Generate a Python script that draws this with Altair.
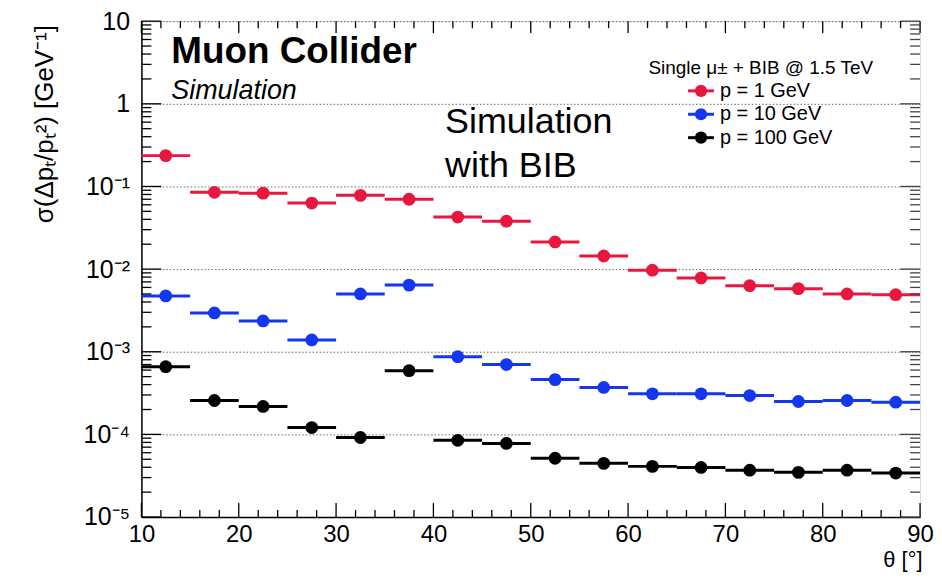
import altair as alt
import pandas as pd

# ---------------- data ----------------
bin_edges = [10, 15, 20, 25, 30, 35, 40, 45, 50, 55, 60, 65, 70, 75, 80, 85, 90]
theta = [12.5, 17.5, 22.5, 27.5, 32.5, 37.5, 42.5, 47.5, 52.5, 57.5, 62.5, 67.5, 72.5, 77.5, 82.5, 87.5]
res_1gev = [0.236, 0.085, 0.083, 0.063, 0.078, 0.070, 0.0426, 0.038, 0.0213, 0.0144,
            0.0097, 0.0078, 0.0063, 0.0058, 0.0050, 0.0049]
res_10gev = [0.00473, 0.00295, 0.00236, 0.00139, 0.0050, 0.0064, 0.00087, 0.00070, 0.00046, 0.00037,
             0.00031, 0.00031, 0.000295, 0.000250, 0.000257, 0.000245]
res_100gev = [0.00066, 0.000257, 0.000218, 0.000121, 0.0000917, 0.00059, 0.0000848, 0.0000777,
              0.0000514, 0.0000446, 0.0000410, 0.0000398, 0.0000369, 0.0000347, 0.0000369, 0.0000340]
series_names = ["p = 1 GeV", "p = 10 GeV", "p = 100 GeV"]
series_colors = ["#e8173f", "#1436f0", "#000000"]

x_major = [10, 20, 30, 40, 50, 60, 70, 80, 90]
x_minor = [v for v in range(12, 90, 2) if v % 10 != 0]
y_major = [1e-5, 1e-4, 1e-3, 1e-2, 1e-1, 1, 10]
y_minor = [m * 10 ** e for e in range(-5, 1) for m in range(2, 10)]
y_tick_labels = {1: "10", 0: "1", -1: "10⁻¹", -2: "10⁻²", -3: "10⁻³", -4: "10⁻⁴", -5: "10⁻⁵"}

title_main = "Muon Collider"
title_sub = "Simulation"
note_lines = ["Simulation", "with BIB"]
legend_header = "Single μ± + BIB @ 1.5 TeV"
y_title = "σ(Δpₜ/pₜ²) [GeV⁻¹]"
x_title = "θ [°]"

# ---------------- build table ----------------
rows = []
for name, vals in zip(series_names, [res_1gev, res_10gev, res_100gev]):
    for i, (t, v) in enumerate(zip(theta, vals)):
        rows.append(dict(series=name, theta=t, lo=bin_edges[i], hi=bin_edges[i + 1], value=v))
df = pd.DataFrame(rows)
leg = pd.DataFrame({"series": series_names, "idx": list(range(len(series_names)))})

W, H = 782, 498
FONT = "Liberation Sans"

xscale = alt.Scale(domain=[10, 90], nice=False, zero=False)
yscale = alt.Scale(type="log", domain=[1e-5, 10], nice=False)
color = alt.Color("series:N", scale=alt.Scale(domain=series_names, range=series_colors), legend=None)

E = "round(log(datum.value)/LN10)"
label_expr = "".join(f"({E}=={k}) ? '{lab}' : " for k, lab in y_tick_labels.items()) + "''"

xaxis = alt.Axis(values=x_major, format="d", ticks=False, grid=False, labelFontSize=24,
                 labelPadding=6, labelColor="#000", labelFont=FONT, labelFlush=False,
                 labelOverlap=False,
                 domainColor="#000", domainWidth=1.5,
                 title=x_title, titleFontSize=22, titleFontWeight="normal", titleFont=FONT,
                 titleX=W + 2, titleY=50, titleAlign="right", titleBaseline="alphabetic",
                 titleColor="#000", titleAnchor="end")
yaxis = alt.Axis(values=y_major, labelExpr=label_expr, ticks=False, grid=True,
                 gridDash=[1.5, 2], gridColor="#666", gridWidth=1, labelFlush=False,
                 labelOverlap=False,
                 labelFontSize=25, labelPadding=12, labelColor="#000", labelFont=FONT,
                 domainColor="#000", domainWidth=1.5, title=None)

base = alt.Chart(df)
bars = base.mark_rule(strokeWidth=3).encode(
    x=alt.X("lo:Q", scale=xscale, axis=xaxis), x2="hi:Q",
    y=alt.Y("value:Q", scale=yscale, axis=yaxis), color=color)
pts = base.mark_circle(size=165, opacity=1).encode(
    x=alt.X("theta:Q", scale=xscale), y=alt.Y("value:Q", scale=yscale), color=color)

# inward ticks
def xticks(vals, y0, y1):
    return alt.Chart(pd.DataFrame({"v": vals})).mark_rule(color="#000", strokeWidth=1.3).encode(
        x=alt.X("v:Q", scale=xscale), y=alt.value(y0), y2=alt.value(y1))

def yticks(vals, x0, x1, col="#000"):
    return alt.Chart(pd.DataFrame({"v": vals})).mark_rule(color=col, strokeWidth=1.3).encode(
        y=alt.Y("v:Q", scale=yscale), x=alt.value(x0), x2=alt.value(x1))

tick_layers = [
    xticks(x_major, H, H - 14), xticks(x_minor, H, H - 7),
    xticks(x_major, 0, 12), xticks(x_minor, 0, 7),
    yticks(y_major, 0, 20), yticks(y_minor, 0, 10),
    yticks(y_major, W, W - 20, "#444"), yticks(y_minor, W, W - 10, "#444"),
]

one = pd.DataFrame({"a": [0]})
def txt(text, x, y, size, align="left", weight="normal", style="normal", angle=0, baseline="alphabetic"):
    return alt.Chart(one).mark_text(text=text, align=align, baseline=baseline, fontSize=size,
                                    fontWeight=weight, fontStyle=style, font=FONT, color="#000",
                                    angle=angle).encode(x=alt.value(x), y=alt.value(y))

texts = [
    txt(title_main, 30, 42, 37, weight="bold"),
    txt(title_sub, 30, 78, 27, style="italic"),
    txt(note_lines[0], 305, 112, 36),
    txt(note_lines[1], 305, 157, 36),
    txt(legend_header, 622, 53, 19, align="center"),
    txt(y_title, -97, 4, 26, align="right", angle=270, baseline="middle"),
]

legbase = alt.Chart(leg).transform_calculate(ypx="70 + 23.5*datum.idx")
leg_line = legbase.mark_rule(strokeWidth=3).encode(
    x=alt.value(549), x2=alt.value(575), y=alt.Y("ypx:Q", scale=None), color=color)
leg_pt = legbase.mark_circle(size=150, opacity=1).encode(
    x=alt.value(562), y=alt.Y("ypx:Q", scale=None), color=color)
leg_txt = legbase.mark_text(align="left", baseline="middle", fontSize=20, font=FONT, color="#000").encode(
    x=alt.value(581), y=alt.Y("ypx:Q", scale=None), text="series:N")

chart = alt.layer(bars, pts, *tick_layers, *texts, leg_line, leg_pt, leg_txt).properties(
    width=W, height=H,
    autosize=alt.AutoSizeParams(type="none"),
    padding={"left": 134, "top": 12, "right": 14, "bottom": 55},
).configure_view(stroke="#888", strokeWidth=2).configure(background="white")

chart.save("out.html", embed_options={"renderer": "svg", "actions": False})
